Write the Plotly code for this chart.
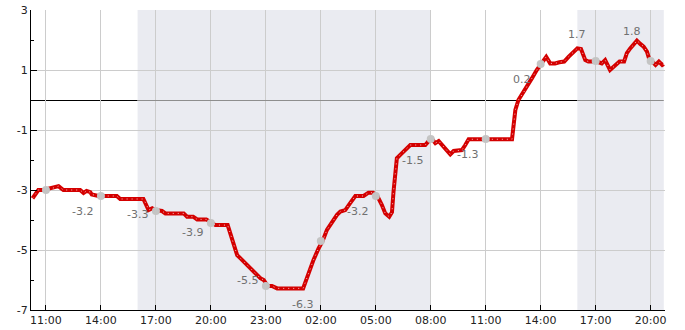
import plotly.graph_objects as go

# ---- data ----
line_times = [
    "2024-01-01 10:16", "2024-01-01 10:35", "2024-01-01 10:52", "2024-01-01 11:25", "2024-01-01 11:41",
    "2024-01-01 11:48", "2024-01-01 11:57", "2024-01-01 12:52", "2024-01-01 13:03", "2024-01-01 13:13",
    "2024-01-01 13:25", "2024-01-01 13:30", "2024-01-01 13:52", "2024-01-01 14:52", "2024-01-01 15:03",
    "2024-01-01 16:19", "2024-01-01 16:30", "2024-01-01 16:36", "2024-01-01 16:48", "2024-01-01 16:58",
    "2024-01-01 17:20", "2024-01-01 17:31", "2024-01-01 18:31", "2024-01-01 18:42", "2024-01-01 19:02",
    "2024-01-01 19:15", "2024-01-01 19:45", "2024-01-01 20:04", "2024-01-01 20:15", "2024-01-01 20:55",
    "2024-01-01 21:04", "2024-01-01 21:15", "2024-01-01 21:26", "2024-01-01 21:37", "2024-01-01 21:53",
    "2024-01-01 22:09", "2024-01-01 22:25", "2024-01-01 22:42", "2024-01-01 22:53", "2024-01-01 23:06",
    "2024-01-01 23:20", "2024-01-01 23:37", "2024-01-02 01:02", "2024-01-02 01:15", "2024-01-02 01:26",
    "2024-01-02 01:36", "2024-01-02 01:53", "2024-01-02 02:06", "2024-01-02 02:20", "2024-01-02 02:37",
    "2024-01-02 02:53", "2024-01-02 03:04", "2024-01-02 03:20", "2024-01-02 03:36", "2024-01-02 03:53",
    "2024-01-02 04:20", "2024-01-02 04:36", "2024-01-02 04:51", "2024-01-02 05:06", "2024-01-02 05:20",
    "2024-01-02 05:31", "2024-01-02 05:44", "2024-01-02 05:53", "2024-01-02 05:58", "2024-01-02 06:04",
    "2024-01-02 06:09", "2024-01-02 06:20", "2024-01-02 06:31", "2024-01-02 06:42", "2024-01-02 06:53",
    "2024-01-02 07:42", "2024-01-02 07:53", "2024-01-02 08:04", "2024-01-02 08:15", "2024-01-02 08:26",
    "2024-01-02 08:37", "2024-01-02 08:53", "2024-01-02 09:04", "2024-01-02 09:15", "2024-01-02 09:42",
    "2024-01-02 09:53", "2024-01-02 10:04", "2024-01-02 12:26", "2024-01-02 12:31", "2024-01-02 12:37",
    "2024-01-02 12:47", "2024-01-02 12:58", "2024-01-02 13:09", "2024-01-02 13:20", "2024-01-02 13:31",
    "2024-01-02 13:47", "2024-01-02 14:01", "2024-01-02 14:18", "2024-01-02 14:31", "2024-01-02 14:47",
    "2024-01-02 15:01", "2024-01-02 15:17", "2024-01-02 15:31", "2024-01-02 15:47", "2024-01-02 16:00",
    "2024-01-02 16:12", "2024-01-02 16:26", "2024-01-02 16:36", "2024-01-02 17:04", "2024-01-02 17:20",
    "2024-01-02 17:31", "2024-01-02 17:47", "2024-01-02 18:04", "2024-01-02 18:18", "2024-01-02 18:33",
    "2024-01-02 18:42", "2024-01-02 18:53", "2024-01-02 19:04", "2024-01-02 19:15", "2024-01-02 19:26",
    "2024-01-02 19:37", "2024-01-02 19:48", "2024-01-02 19:57", "2024-01-02 20:05", "2024-01-02 20:16",
    "2024-01-02 20:27", "2024-01-02 20:38", "2024-01-02 20:43",
]
line_values = [
    -3.28, -3.0, -3.0, -2.93, -2.87,
    -2.93, -3.0, -3.0, -3.1, -3.03,
    -3.07, -3.15, -3.2, -3.2, -3.3,
    -3.3, -3.5, -3.67, -3.61, -3.67,
    -3.7, -3.78, -3.78, -3.89, -3.89,
    -3.98, -3.98, -4.11, -4.17, -4.17,
    -4.44, -4.83, -5.17, -5.28, -5.44,
    -5.61, -5.78, -5.94, -6.0, -6.2,
    -6.2, -6.28, -6.28, -5.89, -5.61,
    -5.33, -4.94, -4.7, -4.33, -4.06,
    -3.83, -3.72, -3.67, -3.44, -3.2,
    -3.2, -3.09, -3.09, -3.22, -3.5,
    -3.78, -3.89, -3.74, -3.06, -2.28,
    -1.94, -1.83, -1.72, -1.61, -1.5,
    -1.5, -1.37, -1.3, -1.44, -1.37,
    -1.5, -1.67, -1.81, -1.7, -1.67,
    -1.5, -1.31, -1.31, -0.94, -0.33,
    0.0, 0.17, 0.33, 0.56, 0.72,
    1.0, 1.2, 1.44, 1.22, 1.22,
    1.26, 1.28, 1.44, 1.61, 1.72,
    1.7, 1.33, 1.28, 1.28, 1.22,
    1.33, 1.0, 1.17, 1.28, 1.28,
    1.56, 1.72, 1.83, 1.98, 1.87,
    1.78, 1.61, 1.31, 1.28, 1.17,
    1.28, 1.17, 1.2,
]

marker_times = [
    "2024-01-01 11:00", "2024-01-01 14:00", "2024-01-01 17:00", "2024-01-01 20:00",
    "2024-01-01 23:00", "2024-01-02 02:00", "2024-01-02 05:00", "2024-01-02 08:00",
    "2024-01-02 11:00", "2024-01-02 14:00", "2024-01-02 17:00", "2024-01-02 20:00",
]
marker_values = [-3.0, -3.2, -3.7, -4.1, -6.2, -4.7, -3.2, -1.3, -1.3, 1.2, 1.3, 1.3]

label_times = [
    "2024-01-01 13:00", "2024-01-01 16:00", "2024-01-01 19:00", "2024-01-01 22:00",
    "2024-01-02 01:00", "2024-01-02 04:00", "2024-01-02 07:00", "2024-01-02 10:00",
    "2024-01-02 13:00", "2024-01-02 16:00", "2024-01-02 19:00",
]
label_values = [-3.2, -3.3, -3.9, -5.5, -6.3, -3.2, -1.5, -1.3, 0.2, 1.7, 1.8]

y_tick_values = [3, 1, -1, -3, -5, -7]
y_tick_labels = ["3", "1", "-1", "-3", "-5", "-7"]

night_starts = ["2024-01-01 16:00", "2024-01-02 16:00"]
night_ends = ["2024-01-02 08:00", "2024-01-02 20:43"]

x_range = ["2024-01-01 10:11", "2024-01-02 20:47"]
y_range = [-7, 3]

FONT = "DejaVu Sans"

fig = go.Figure()

fig.add_trace(go.Scatter(
    x=line_times, y=line_values, mode="lines",
    line=dict(color="#d40000", width=4), hoverinfo="skip",
))
fig.add_trace(go.Scatter(
    x=line_times, y=line_values, mode="lines",
    line=dict(color="rgba(255,255,255,0.75)", width=1, dash="1px,4px"), hoverinfo="skip",
))
fig.add_trace(go.Scatter(
    x=marker_times, y=marker_values, mode="markers",
    marker=dict(color="#c4c4c4", size=8), hoverinfo="skip",
))

# shaded night periods + zero line segments (pixel-anchored at y=0 for a crisp 1px line)
shapes = []
for s, e in zip(night_starts, night_ends):
    shapes.append(dict(type="rect", xref="x", yref="y", x0=s, x1=e, y0=y_range[0], y1=y_range[1],
                       fillcolor="#eaebf1", line=dict(width=0), layer="below"))
bounds = [x_range[0]] + [v for pair in zip(night_starts, night_ends) for v in pair]
for i in range(len(bounds) - 1):
    night = i % 2 == 1
    shapes.append(dict(type="line", xref="x", yref="y", x0=bounds[i], x1=bounds[i + 1],
                       ysizemode="pixel", yanchor=0, y0=-0.5, y1=-0.5,
                       line=dict(color="#8e8e8e" if night else "#000000", width=1),
                       layer="above" if night else "below"))

annotations = []
for t, v in zip(label_times, label_values):
    annotations.append(dict(x=t, y=v, xref="x", yref="y", text=f"{v:g}", showarrow=False,
                            yshift=15 if v > 0 else -15,
                            font=dict(family=FONT, size=11, color="#707070")))

fig.update_layout(
    width=685, height=330,
    margin=dict(l=31, r=20, t=10, b=20, autoexpand=False),
    paper_bgcolor="white", plot_bgcolor="white",
    showlegend=False,
    shapes=shapes, annotations=annotations,
    font=dict(family=FONT, size=10, color="#222222"),
)
fig.update_xaxes(
    type="date", range=x_range, automargin=False,
    tick0="2024-01-01 11:00", dtick=3 * 3600 * 1000, tickformat="%H:%M",
    showgrid=True, gridcolor="#cccccc", gridwidth=1,
    showline=True, linecolor="#000000", linewidth=1,
    ticks="inside", ticklen=5, tickcolor="#000000",
    zeroline=False, tickfont=dict(family=FONT, size=11, color="#222222"),
)
fig.update_yaxes(
    range=y_range, automargin=False,
    tickmode="array", tickvals=y_tick_values, ticktext=y_tick_labels,
    showgrid=True, gridcolor="#cccccc", gridwidth=1,
    showline=True, linecolor="#000000", linewidth=1,
    ticks="inside", ticklen=6, tickcolor="#000000",
    minor=dict(tickmode="linear", tick0=0, dtick=2, ticks="inside", ticklen=3,
               tickcolor="#000000", showgrid=False),
    zeroline=False, tickfont=dict(family=FONT, size=11, color="#222222"),
)

fig.write_html("out.html")
